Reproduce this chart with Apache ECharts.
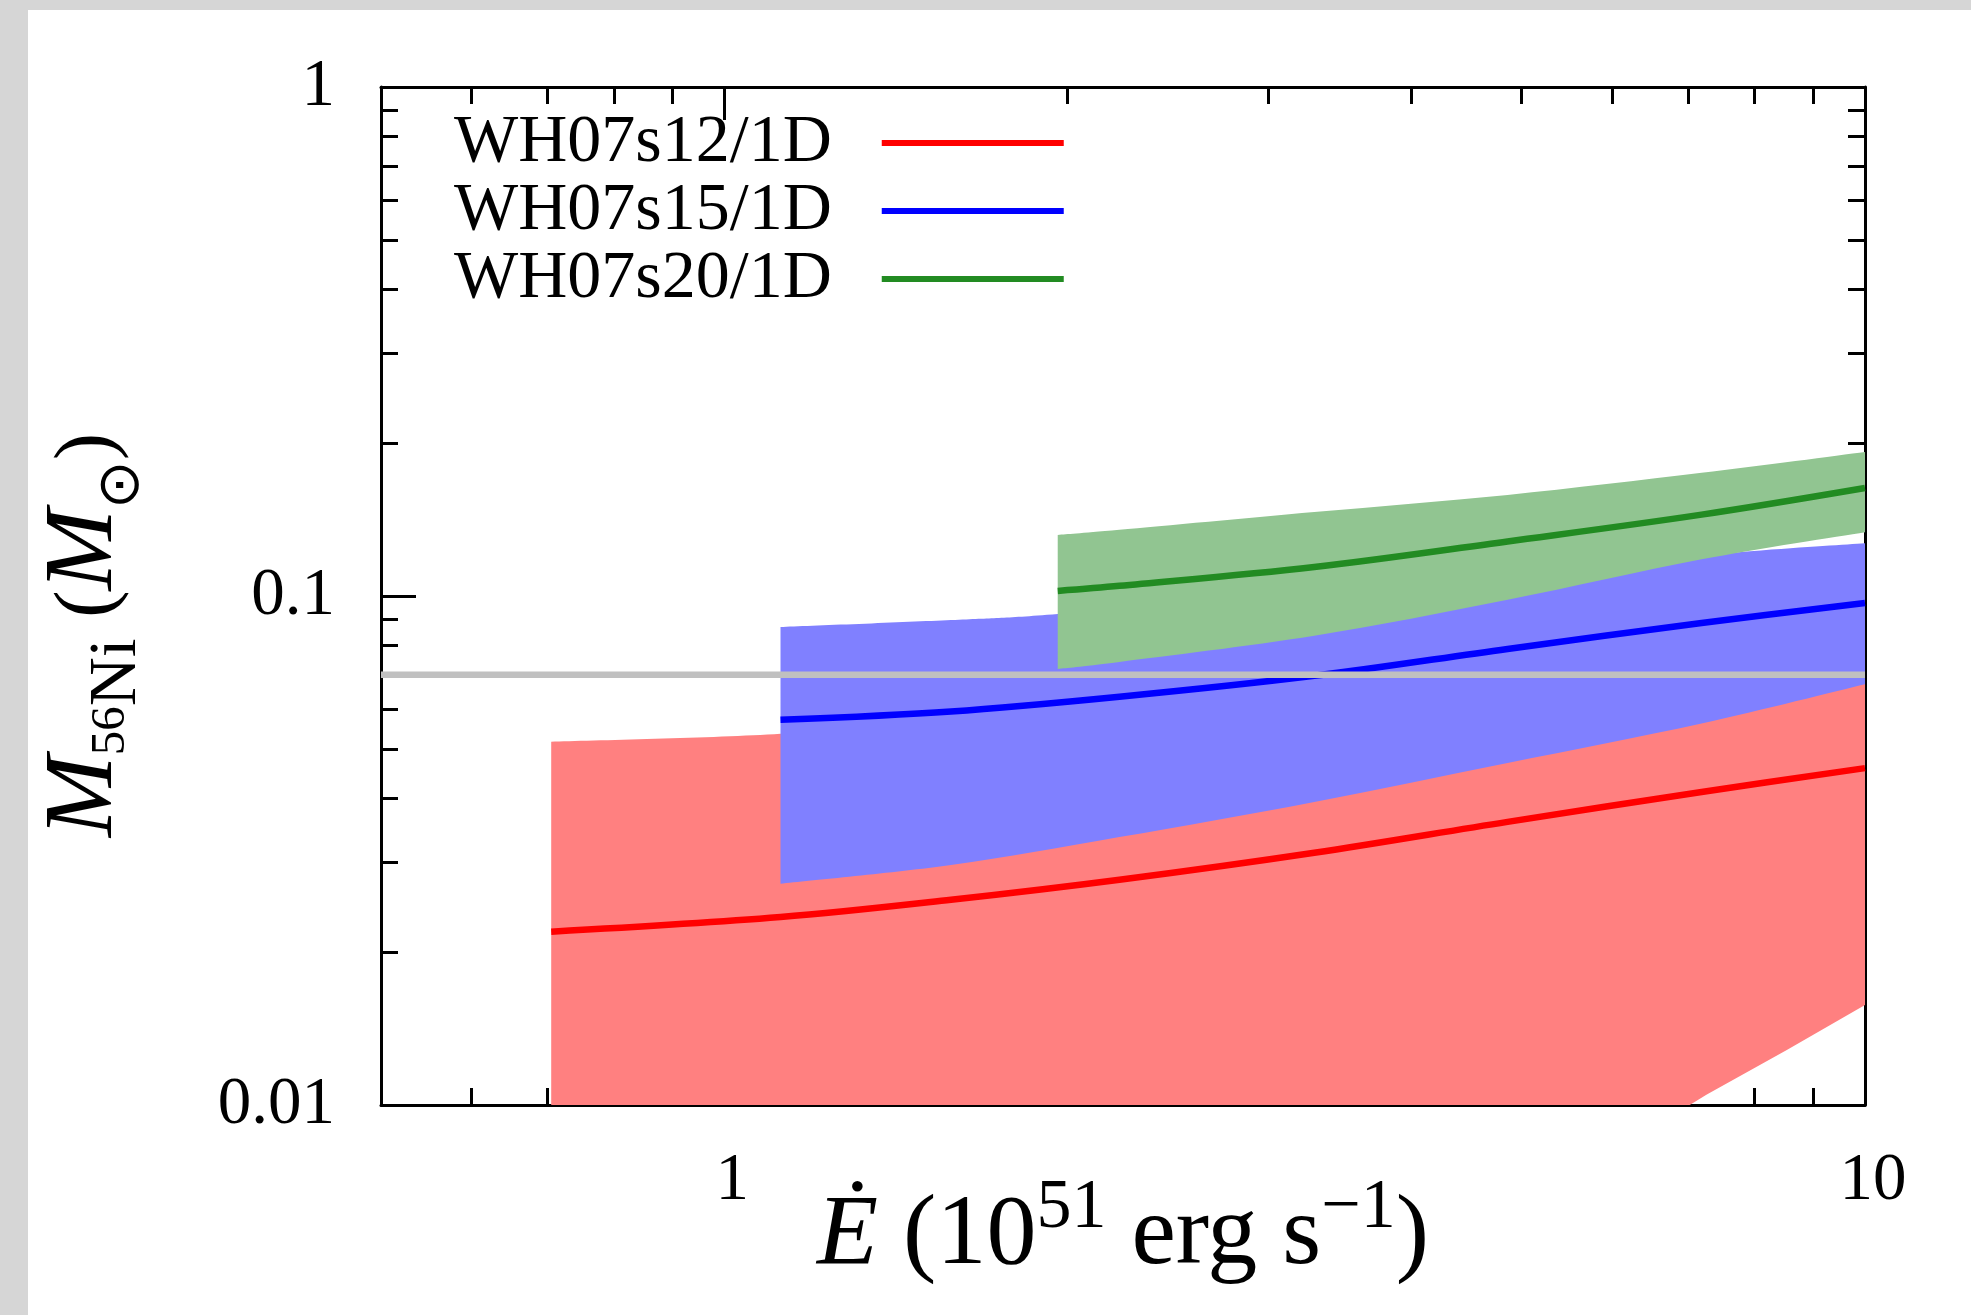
<!DOCTYPE html>
<html><head><meta charset="utf-8">
<script src="https://cdn.jsdelivr.net/npm/echarts@6/dist/echarts.min.js"></script>
<style>
html,body{margin:0;padding:0;background:#d6d6d6;width:1971px;height:1315px;overflow:hidden}
#chart{position:absolute;left:28px;top:10px;width:1943px;height:1305px;background:#fff}
</style></head><body><div id="chart"></div>
<script>
// ---------- data ----------
const seriesNames = ['WH07s12/1D', 'WH07s15/1D', 'WH07s20/1D'];

// WH07s12/1D
const s12LineX  = [0.705, 1.12, 1.58, 2.22, 3.29, 4.86, 7.19, 10];
const s12Line   = [0.0219, 0.0234, 0.0253, 0.0277, 0.0313, 0.036, 0.0412, 0.0459];
const s12UpperX = [0.705, 1.12, 1.58, 2.22, 3.29, 4.86, 7.19, 10];
const s12Upper  = [0.0517, 0.0536, 0.058, 0.064, 0.072, 0.082, 0.094, 0.105];
const s12LowerX = [0.705, 7.02, 7.26, 8.54, 10];
const s12Lower  = [0.01, 0.01, 0.01047, 0.01283, 0.01572];

// WH07s15/1D
const s15LineX  = [1.12, 1.58, 2.22, 3.29, 4.86, 7.19, 10];
const s15Line   = [0.0571, 0.0593, 0.0634, 0.0697, 0.0787, 0.0885, 0.0969];
const s15UpperX = [1.12, 1.58, 1.96, 3.29, 4.86, 7.93, 10];
const s15Upper  = [0.0869, 0.0897, 0.0922, 0.102, 0.112, 0.1225, 0.127];
const s15LowerX = [1.12, 1.58, 2.22, 3.29, 4.86, 7.19, 10];
const s15Lower  = [0.0272, 0.0296, 0.0336, 0.0394, 0.047, 0.0562, 0.0671];

// WH07s20/1D
const s20X      = [1.96, 2.22, 3.29, 4.86, 7.19, 10];
const s20Line   = [0.1023, 0.1047, 0.114, 0.128, 0.1445, 0.163];
const s20Upper  = [0.1318, 0.1349, 0.1462, 0.158, 0.1746, 0.1919];
const s20Lower  = [0.0719, 0.0742, 0.0835, 0.0983, 0.1181, 0.1335];

// horizontal reference level
const refX = [0.5, 10];
const refLevel = [0.07, 0.07];

// axes
const xRange = [0.5, 10];
const yRange = [0.01, 1];
const xMajorTicks = [1, 10];
const xTickLabels = ['1', '10'];
const xMinorTicks = [0.6, 0.7, 0.8, 0.9, 2, 3, 4, 5, 6, 7, 8, 9];
const yMajorTicks = [0.01, 0.1, 1];
const yTickLabels = ['0.01', '0.1', '1'];
const yMinorTicks = [0.02, 0.03, 0.04, 0.05, 0.06, 0.07, 0.08, 0.09, 0.2, 0.3, 0.4, 0.5, 0.6, 0.7, 0.8, 0.9];

// ---------- styling ----------
const SERIF = "'Liberation Serif', 'DejaVu Serif', serif";
const colors = {
  s12: '#ff0000', s15: '#0000ff', s20: '#228b22',
  s12Band: '#ff8080', s15Band: '#8080ff', s20Band: '#91c591', ref: '#c0c0c0'
};

function zip(xs, ys) { return xs.map((x, i) => [x, ys[i]]); }
function labelFor(vals, labels) {
  return v => { for (let i = 0; i < vals.length; i++) if (Math.abs(Math.log10(v) - Math.log10(vals[i])) < 1e-6) return labels[i]; return ''; };
}

// smooth (Catmull-Rom) or straight pieces through pixel points, continuing from pts[0]
function piece(pts, smooth) {
  let d = '';
  for (let i = 0; i < pts.length - 1; i++) {
    const p1 = pts[i], p2 = pts[i + 1];
    if (!smooth) { d += ' L' + p2[0] + ' ' + p2[1]; continue; }
    const p0 = pts[i - 1] || p1, p3 = pts[i + 2] || p2;
    const c1 = [p1[0] + (p2[0] - p0[0]) / 6, p1[1] + (p2[1] - p0[1]) / 6];
    const c2 = [p2[0] - (p3[0] - p1[0]) / 6, p2[1] - (p3[1] - p1[1]) / 6];
    d += ' C' + c1[0] + ' ' + c1[1] + ' ' + c2[0] + ' ' + c2[1] + ' ' + p2[0] + ' ' + p2[1];
  }
  return d;
}
function band(xsU, ysU, xsL, ysL, color, z, lowerSmooth) {
  return {
    type: 'custom', silent: true, z: z, clip: true,
    xAxisIndex: 0, yAxisIndex: 0,
    data: [[1, 0.1]],
    renderItem: function (params, api) {
      const up = xsU.map((x, i) => api.coord([x, ysU[i]]));
      const lo = xsL.map((x, i) => api.coord([x, ysL[i]])).reverse();
      const d = 'M' + up[0][0] + ' ' + up[0][1] + piece(up, true) +
        ' L' + lo[0][0] + ' ' + lo[0][1] + piece(lo, lowerSmooth) + ' Z';
      return { type: 'path', shape: { pathData: d }, style: { fill: color, stroke: null } };
    }
  };
}
function curve(name, xs, ys, color, z) {
  return {
    type: 'line', name: name, data: zip(xs, ys), xAxisIndex: 0, yAxisIndex: 0,
    symbol: 'none', showSymbol: false, smooth: 0.35, z: z, silent: true,
    itemStyle: { color: color }, lineStyle: { color: color, width: 6.5 }
  };
}

const axisLineStyle = { show: true, lineStyle: { color: '#000', width: 3 } };
const noLine = { show: false };
function xAx(pos, ticks, len, withLine, labels, extra) {
  return Object.assign({
    type: 'log', logBase: 10, min: xRange[0], max: xRange[1], position: pos, gridIndex: 0,
    axisLine: withLine ? axisLineStyle : noLine,
    axisTick: { show: true, inside: true, length: len, customValues: ticks, lineStyle: { color: '#000', width: 3 } },
    axisLabel: labels ? {
      show: true, customValues: ticks, formatter: labelFor(xMajorTicks, xTickLabels),
      fontFamily: SERIF, fontSize: 67, color: '#000', margin: 43, padding: [0, 0, 0, 16]
    } : { show: false },
    splitLine: { show: false }, minorTick: { show: false }, nameMoveOverlap: false
  }, extra || {});
}
function yAx(pos, ticks, len, withLine, labels, extra) {
  return Object.assign({
    type: 'log', logBase: 10, min: yRange[0], max: yRange[1], position: pos, gridIndex: 0,
    axisLine: withLine ? axisLineStyle : noLine,
    axisTick: { show: true, inside: true, length: len, customValues: ticks, lineStyle: { color: '#000', width: 3 } },
    axisLabel: labels ? {
      show: true, customValues: ticks, formatter: labelFor(yMajorTicks, yTickLabels),
      fontFamily: SERIF, fontSize: 67, color: '#000', margin: 46
    } : { show: false },
    splitLine: { show: false }, minorTick: { show: false }, nameMoveOverlap: false
  }, extra || {});
}

const xr = (size, pad, italic) => ({ fontFamily: SERIF, fontSize: size, fontStyle: italic ? 'italic' : 'normal', color: '#000', lineHeight: 100, verticalAlign: 'middle', padding: pad });
const yr = (size, pad, italic, fam) => ({ fontFamily: fam || SERIF, fontSize: size, fontStyle: italic ? 'italic' : 'normal', color: '#000', lineHeight: 94, verticalAlign: 'middle', padding: pad });

const option = {
  animation: false,
  backgroundColor: '#ffffff',
  grid: { left: 353, right: 106, top: 77, bottom: 210, containLabel: false, outerBoundsMode: 'none' },
  legend: {
    orient: 'vertical', left: 421, top: 94, align: 'right',
    itemWidth: 182, itemHeight: 6, itemGap: 0, icon: 'rect', selectedMode: false,
    data: seriesNames.map(n => ({ name: n })),
    textStyle: { fontFamily: SERIF, fontSize: 68, color: '#000', lineHeight: 68, padding: [0, 45, 0, 0] }
  },
  xAxis: [
    xAx('bottom', xMajorTicks, 33, true, true, {
      name: '{e|Ė}{n| (10}{sup|51}{n| erg s}{sup|−1}{n|)}',
      nameLocation: 'middle', nameGap: 82,
      nameTextStyle: {
        fontFamily: SERIF, fontSize: 100, color: '#000', lineHeight: 100,
        rich: {
          e: xr(100, [0, 0, 0, 0], true),
          n: xr(100, [0, 0, 0, 0], false),
          sup: xr(70, [0, 0, 56, 0], false)
        }
      }
    }),
    xAx('bottom', xMinorTicks, 17, false, false),
    xAx('top', xMajorTicks, 33, true, false),
    xAx('top', xMinorTicks, 17, false, false)
  ],
  yAxis: [
    yAx('left', yMajorTicks, 35, true, true, {
      name: '{m|M}{s|56}{sub|Ni}{n| (}{m|M}{sun|⊙}{n|)}',
      nameLocation: 'middle', nameGap: 249, nameRotate: 90,
      nameTextStyle: {
        fontFamily: SERIF, fontSize: 94, color: '#000', lineHeight: 94, padding: [0, 78, 0, 0],
        rich: {
          m: yr(98, [0, 0, 0, 0], true),
          s: yr(49, [53, 0, 0, 0], false),
          sub: yr(68, [64, 0, 0, 0], false),
          n: yr(82, [8, 0, 0, 0], false),
          sun: yr(58, [75, 0, 0, 0], false, "'DejaVu Sans', sans-serif")
        }
      }
    }),
    yAx('left', yMinorTicks, 17, false, false),
    yAx('right', yMajorTicks, 35, true, false),
    yAx('right', yMinorTicks, 17, false, false)
  ],
  series: [
    band(s12UpperX, s12Upper, s12LowerX, s12Lower, colors.s12Band, 1, false),
    band(s15UpperX, s15Upper, s15LowerX, s15Lower, colors.s15Band, 2, true),
    band(s20X, s20Upper, s20X, s20Lower, colors.s20Band, 3, true),
    curve(seriesNames[0], s12LineX, s12Line, colors.s12, 5),
    curve(seriesNames[1], s15LineX, s15Line, colors.s15, 5),
    curve(seriesNames[2], s20X, s20Line, colors.s20, 5),
    {
      type: 'line', data: zip(refX, refLevel), xAxisIndex: 0, yAxisIndex: 0, symbol: 'none', z: 6, silent: true,
      lineStyle: { color: colors.ref, width: 6.5 }, itemStyle: { color: colors.ref }
    }
  ]
};

const chart = echarts.init(document.getElementById('chart'), null, { renderer: 'canvas' });
chart.setOption(option);
</script></body></html>
